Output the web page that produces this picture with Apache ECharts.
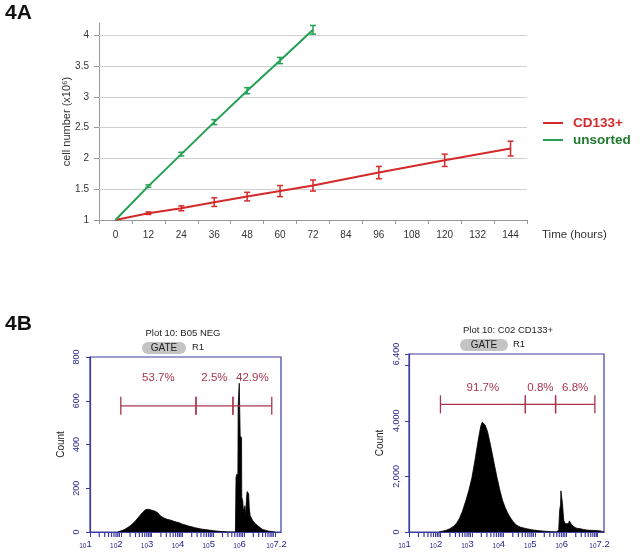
<!DOCTYPE html>
<html><head><meta charset="utf-8">
<script src="https://cdn.jsdelivr.net/npm/echarts@6/dist/echarts.min.js"></script>
<style>html,body{margin:0;padding:0;background:#fff}#c{width:640px;height:555px}</style>
</head><body><div id="c"></div>
<script>
// ---------- Panel 4A data ----------
const hours = ['0','12','24','36','48','60','72','84','96','108','120','132','144'];
const cd133Mean    = [1.00,1.11,1.19,1.29,1.38,1.47,1.56,null,1.77,null,1.97,null,2.16];
const cd133Err     = [0,0.02,0.04,0.07,0.07,0.09,0.09,null,0.10,null,0.10,null,0.12];
const unsortedMean = [1.00,1.55,2.07,2.59,3.10,3.59,4.09,null,null,null,null,null,null];
const unsortedErr  = [0,0.02,0.03,0.04,0.05,0.05,0.07,null,null,null,null,null,null];
const yTicksA = [1,1.5,2,2.5,3,3.5,4];
const yGridA  = [1.5,2,2.5,3,3.5,4];

// ---------- Panel 4B data (x in log10 units) ----------
const negLog   = [1.9,2.0,2.1,2.2,2.3,2.4,2.5,2.6,2.7,2.8,2.85,2.9,2.95,3.0,3.05,3.1,3.15,3.2,3.3,3.4,3.5,3.6,3.7,3.8,3.9,4.0,4.1,4.2,4.3,4.4,4.5,4.6,4.7,4.8,4.9,5.0,5.2,5.4,5.5,
                  5.72,5.74,5.77,5.80,5.81,5.84,5.845,5.87,5.875,5.92,5.925,5.96,5.98,6.01,6.03,6.05,6.08,6.10,6.15,6.17,6.20,6.23,6.27,6.32,6.38,6.45,6.50,6.60,6.70,6.80,6.90,7.00];
const negCount = [0,5,10,18,28,40,55,72,88,102,110,104,108,100,97,96,92,88,72,64,58,55,50,46,42,36,32,27,24,20,17,14,12,10,8,6,3,1,0,
                  0,250,265,255,580,585,680,680,440,430,160,140,95,90,120,70,150,185,175,110,75,80,55,45,38,28,22,12,8,4,2,0];
const posLog   = [1.95,2.0,2.1,2.2,2.3,2.4,2.5,2.6,2.7,2.8,2.9,3.0,3.1,3.2,3.28,3.33,3.38,3.42,3.5,3.57,3.65,3.73,3.8,3.89,3.97,4.05,4.13,4.21,4.3,4.42,4.55,4.74,4.9,5.1,5.3,5.5,5.7,
                  5.76,5.79,5.82,5.83,5.87,5.88,5.91,5.92,5.97,6.02,6.07,6.10,6.15,6.17,6.22,6.28,6.35,6.44,6.55,6.65,6.8,6.95,7.07,7.15,7.2];
const posCount = [0,20,40,70,120,190,300,480,750,1100,1480,1950,2600,3300,3800,3950,3960,3850,3600,3240,2800,2340,1950,1500,1150,900,700,540,390,240,170,120,80,50,30,10,0,
                  80,780,1000,1480,1450,1020,950,420,300,230,300,400,380,260,220,160,130,120,90,70,60,50,40,20,0];
const negGates = [2.0,4.44,5.64,6.9];
const posGates = [2.0,4.70,5.66,6.91];
const negGateLevel = 577;
const posGateLevel = 4590;
const negPct = ['53.7%','2.5%','42.9%'];
const posPct = ['91.7%','0.8%','6.8%'];
const decadeLabels = [1,2,3,4,5,6,7.2];
const decadeTicks  = [1,2,3,4,5,6,7];
const minorMult = [2,3,4,5,6,7,8,9];
const negYTicks = [0,200,400,600,800];
const posYTicks = [0,2000,4000,6000,6400];
const posYLabels = [0,2000,4000,6400];

// ---------- styles ----------
const FONT = 'Liberation Sans, Arial, sans-serif';
const RED = '#d42a2a', GREEN = '#23a055', GREEN_TXT = '#1f7a30';
const BLUE = '#3c3ca0', BLUE_TXT = '#25258f', GATE = '#a8364c';

const minorPos = [];
for (let d = 1; d <= 7; d++) for (const m of minorMult) {
  const v = d + Math.log10(m);
  if (v < 7.2) minorPos.push(v);
}

function errorSeries(means, errs, color) {
  const data = [];
  means.forEach((m, i) => { if (m != null && errs[i]) data.push([i, m - errs[i], m + errs[i]]); });
  return {
    type: 'custom', xAxisIndex: 0, yAxisIndex: 0, data, z: 4, silent: true,
    encode: { x: 0, y: [1, 2] },
    renderItem(params, api) {
      const lo = api.coord([api.value(0), api.value(1)]);
      const hi = api.coord([api.value(0), api.value(2)]);
      const w = 3, st = { stroke: color, lineWidth: 1.5 };
      return { type: 'group', children: [
        { type: 'line', shape: { x1: lo[0], y1: lo[1], x2: hi[0], y2: hi[1] }, style: st },
        { type: 'line', shape: { x1: lo[0]-w, y1: lo[1], x2: lo[0]+w, y2: lo[1] }, style: st },
        { type: 'line', shape: { x1: hi[0]-w, y1: hi[1], x2: hi[0]+w, y2: hi[1] }, style: st }
      ]};
    }
  };
}

function gateSeries(idx, gates, level, pct, labelOffset) {
  const data = [];
  for (let i = 0; i < gates.length - 1; i++) data.push([gates[i], gates[i+1], level, i]);
  return {
    type: 'custom', xAxisIndex: idx, yAxisIndex: idx, data, z: 5, silent: true,
    encode: { x: [0, 1], y: 2 },
    renderItem(params, api) {
      const a = api.coord([api.value(0), api.value(2)]);
      const b = api.coord([api.value(1), api.value(2)]);
      const st = { stroke: GATE, lineWidth: 1.3 };
      const h = 9;
      return { type: 'group', children: [
        { type: 'line', shape: { x1: a[0], y1: a[1], x2: b[0], y2: b[1] }, style: st },
        { type: 'line', shape: { x1: a[0], y1: a[1]-h, x2: a[0], y2: a[1]+h }, style: st },
        { type: 'line', shape: { x1: b[0], y1: b[1]-h, x2: b[0], y2: b[1]+h }, style: st },
        { type: 'text', style: { text: pct[api.value(3)], x: (a[0]+b[0])/2, y: a[1] + labelOffset,
          align: 'center', verticalAlign: 'middle', fill: GATE, fontSize: 11.5, fontFamily: FONT } }
      ]};
    }
  };
}

function minorTickSeries(idx) {
  return {
    type: 'custom', xAxisIndex: idx, yAxisIndex: idx, data: minorPos.map(v => [v, 0]), z: 6, silent: true,
    clip: false, encode: { x: 0, y: 1 },
    renderItem(params, api) {
      const p = api.coord([api.value(0), 0]);
      return { type: 'line', shape: { x1: p[0], y1: p[1], x2: p[0], y2: p[1] + 5 }, style: { stroke: BLUE, lineWidth: 1.2 } };
    }
  };
}

function histSeries(idx, xs, ys) {
  return {
    type: 'line', xAxisIndex: idx, yAxisIndex: idx, data: xs.map((x, i) => [x, ys[i]]),
    symbol: 'none', silent: true, z: 3,
    lineStyle: { color: '#000', width: 0.8 }, areaStyle: { color: '#000', opacity: 1 }
  };
}

function logXAxis(idx) {
  return {
    type: 'value', gridIndex: idx, min: 1, max: 7.2,
    axisLine: { show: true, lineStyle: { color: BLUE, width: 1.2 } },
    axisTick: { show: true, length: 5, customValues: decadeTicks, lineStyle: { color: BLUE } },
    splitLine: { show: false },
    axisLabel: {
      customValues: decadeLabels, margin: 7, color: BLUE_TXT,
      formatter: v => '{a|10}{b|' + (Math.round(v*10)/10) + '}',
      rich: {
        a: { fontSize: 6.5, fontFamily: FONT, color: BLUE_TXT, verticalAlign: 'bottom', padding: [4,0,0,0] },
        b: { fontSize: 9.5, fontFamily: FONT, color: BLUE_TXT, padding: [0,9,0,0] }
      }
    }
  };
}

function countYAxis(idx, max, ticks, labels, margin) {
  return {
    type: 'value', gridIndex: idx, min: 0, max: max,
    name: 'Count', nameLocation: 'middle', nameGap: 24,
    nameTextStyle: { fontSize: 10, fontFamily: FONT, color: '#222' },
    axisLine: { show: true, lineStyle: { color: BLUE, width: 1.2 } },
    axisTick: { show: true, length: 4, customValues: ticks, lineStyle: { color: BLUE } },
    splitLine: { show: false },
    axisLabel: {
      customValues: labels, rotate: 90, margin: margin, fontSize: 9, fontFamily: FONT, color: BLUE_TXT,
      formatter: v => v.toLocaleString('en-US')
    }
  };
}

const chart = echarts.init(document.getElementById('c'), null, { renderer: 'canvas' });
chart.setOption({
  animation: false,
  backgroundColor: '#fff',
  textStyle: { fontFamily: FONT },
  grid: [
    { left: 99, top: 23, width: 428, height: 197, outerBoundsMode: 'none' },
    { left: 90, top: 357, width: 191, height: 175, show: true, borderColor: BLUE, borderWidth: 1.2, backgroundColor: 'transparent', outerBoundsMode: 'none' },
    { left: 409, top: 354, width: 195, height: 178, show: true, borderColor: BLUE, borderWidth: 1.2, backgroundColor: 'transparent', outerBoundsMode: 'none' }
  ],
  legend: {
    data: [
      { name: 'CD133+', textStyle: { color: RED } },
      { name: 'unsorted', textStyle: { color: GREEN_TXT } }
    ],
    orient: 'vertical', left: 543, top: 116, padding: 0, itemWidth: 20, itemHeight: 2, itemGap: 3, icon: 'rect',
    textStyle: { fontSize: 13.5, fontWeight: 'bold', fontFamily: FONT, lineHeight: 14, padding: [0,0,0,5] }
  },
  xAxis: [
    {
      type: 'category', gridIndex: 0, data: hours, boundaryGap: true,
      name: 'Time (hours)', nameLocation: 'end', nameGap: 15,
      nameTextStyle: { fontSize: 11.5, color: '#333', fontFamily: FONT, verticalAlign: 'top', padding: [9,0,0,0] },
      axisLine: { lineStyle: { color: '#999' } },
      axisTick: { show: true, length: 4, interval: 0, lineStyle: { color: '#999' } },
      axisLabel: { interval: 0, fontSize: 10, color: '#333', margin: 10, fontFamily: FONT },
      splitLine: { show: false }
    },
    logXAxis(1), logXAxis(2)
  ],
  yAxis: [
    {
      type: 'value', gridIndex: 0, min: 1, max: 4.2,
      name: 'cell number (x10\u2076)', nameLocation: 'middle', nameGap: 27, nameMoveOverlap: false,
      nameTextStyle: { fontSize: 11, color: '#333', fontFamily: FONT },
      axisLine: { show: true, lineStyle: { color: '#999' } },
      axisTick: { show: true, length: 5, customValues: yTicksA, lineStyle: { color: '#999' } },
      axisLabel: { customValues: yTicksA, fontSize: 10, color: '#333', margin: 10, fontFamily: FONT },
      splitLine: { show: false }
    },
    countYAxis(1, 800, negYTicks, negYTicks, 9),
    countYAxis(2, 6400, posYTicks, posYLabels, 8)
  ],
  series: [
    {
      name: 'CD133+', type: 'line', xAxisIndex: 0, yAxisIndex: 0, data: cd133Mean, connectNulls: true,
      symbol: 'none', color: RED, lineStyle: { color: RED, width: 2 }, z: 3,
      markLine: { silent: true, symbol: 'none', label: { show: false }, z: 1,
        lineStyle: { color: '#cfcfcf', type: 'solid', width: 1 },
        data: yGridA.map(v => ({ yAxis: v })) }
    },
    {
      name: 'unsorted', type: 'line', xAxisIndex: 0, yAxisIndex: 0, data: unsortedMean, connectNulls: true,
      symbol: 'none', color: GREEN, lineStyle: { color: GREEN, width: 2 }, z: 3
    },
    errorSeries(cd133Mean, cd133Err, RED),
    errorSeries(unsortedMean, unsortedErr, GREEN),
    histSeries(1, negLog, negCount),
    histSeries(2, posLog, posCount),
    gateSeries(1, negGates, negGateLevel, negPct, -28),
    gateSeries(2, posGates, posGateLevel, posPct, -17),
    minorTickSeries(1), minorTickSeries(2)
  ],
  graphic: [
    { type: 'text', left: 5, top: 3, style: { text: '4A', fontSize: 21, fontWeight: 'bold', fontFamily: FONT, fill: '#111' } },
    { type: 'text', left: 5, top: 314, style: { text: '4B', fontSize: 21, fontWeight: 'bold', fontFamily: FONT, fill: '#111' } },
    { type: 'text', x: 183, y: 333, style: { text: 'Plot 10: B05 NEG', align: 'center', verticalAlign: 'middle', fontSize: 9.5, fontFamily: FONT, fill: '#222' } },
    { type: 'rect', shape: { x: 142, y: 342, width: 44, height: 12, r: 6 }, style: { fill: '#c4c4c4' } },
    { type: 'text', x: 164, y: 348, style: { text: 'GATE', align: 'center', verticalAlign: 'middle', fontSize: 10, fontFamily: FONT, fill: '#222' } },
    { type: 'text', x: 192, y: 347, style: { text: 'R1', align: 'left', verticalAlign: 'middle', fontSize: 9.5, fontFamily: FONT, fill: '#222' } },
    { type: 'text', x: 508, y: 330, style: { text: 'Plot 10: C02 CD133+', align: 'center', verticalAlign: 'middle', fontSize: 9.5, fontFamily: FONT, fill: '#222' } },
    { type: 'rect', shape: { x: 460, y: 339, width: 48, height: 12, r: 6 }, style: { fill: '#c4c4c4' } },
    { type: 'text', x: 484, y: 345, style: { text: 'GATE', align: 'center', verticalAlign: 'middle', fontSize: 10, fontFamily: FONT, fill: '#222' } },
    { type: 'text', x: 513, y: 344, style: { text: 'R1', align: 'left', verticalAlign: 'middle', fontSize: 9.5, fontFamily: FONT, fill: '#222' } }
  ]
});
</script>
</body></html>
